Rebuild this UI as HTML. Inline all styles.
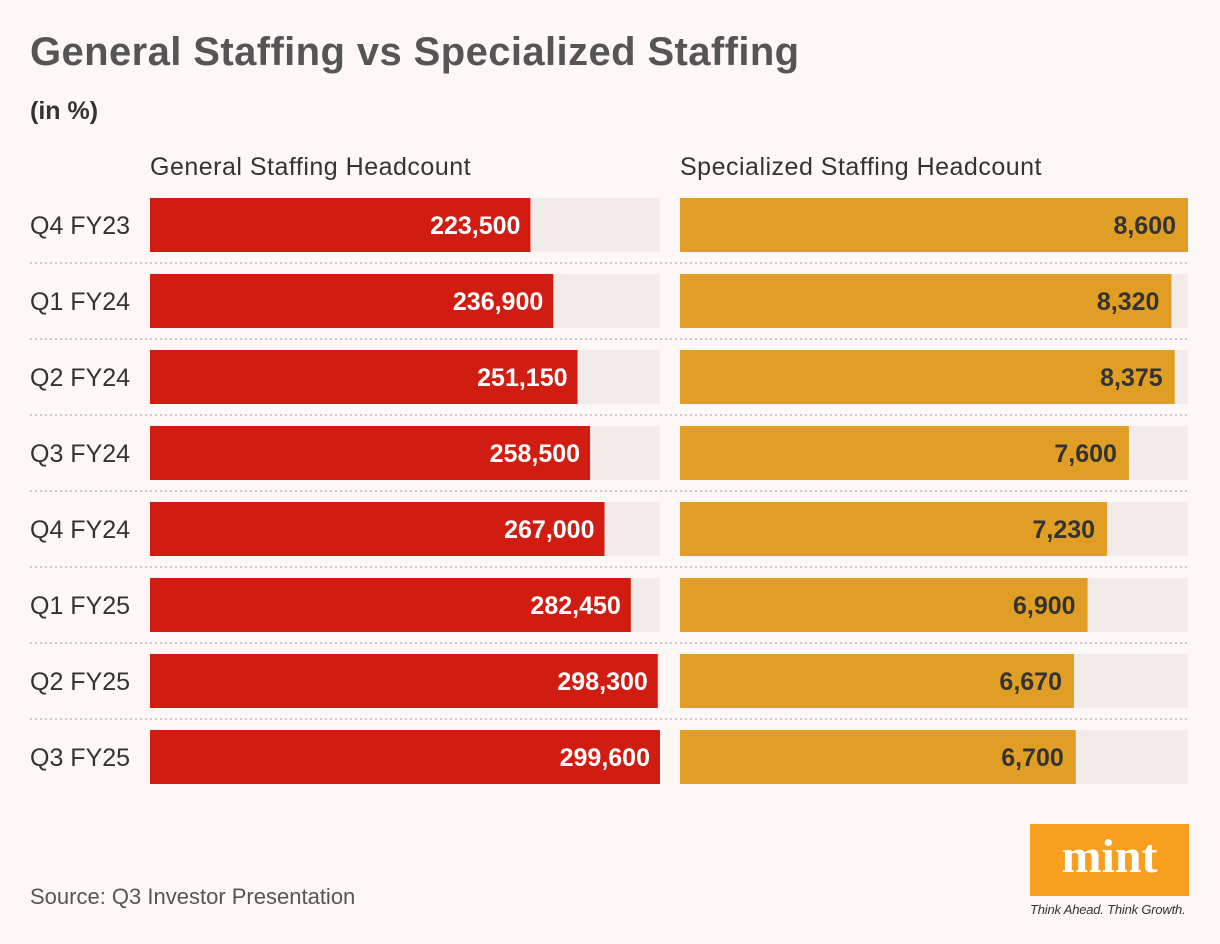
<!DOCTYPE html>
<html><head><meta charset="utf-8"><style>
body{margin:0;width:1220px;height:944px;background:#fdf7f5;font-family:"Liberation Sans",sans-serif;position:relative;overflow:hidden}
.abs{position:absolute}
</style></head><body>
<div class="abs" style="left:30px;top:30px;font-size:40px;font-weight:bold;color:#555;letter-spacing:0.4px">General Staffing vs Specialized Staffing</div>
<div class="abs" style="left:30px;top:97px;font-size:25px;font-weight:bold;color:#333">(in %)</div>
<div class="abs" style="left:150px;top:153px;font-size:25px;color:#333;letter-spacing:0.5px">General Staffing Headcount</div>
<div class="abs" style="left:680px;top:153px;font-size:25px;color:#333;letter-spacing:0.5px">Specialized Staffing Headcount</div>
<svg class="abs" style="left:0;top:0" width="1220" height="944" id="chart"></svg>
<div class="abs" style="left:30px;top:884px;font-size:22px;color:#555">Source: Q3 Investor Presentation</div>
<div class="abs" style="left:1030px;top:824px;width:159px;height:72px;background:#f89f1f;color:#fff;font-family:'Liberation Serif',serif;font-weight:bold;font-size:48px;text-align:center;line-height:66px">mint</div>
<div class="abs" style="left:1030px;top:902px;font-size:13px;font-style:italic;color:#333;letter-spacing:-0.2px">Think Ahead. Think Growth.</div>
<script>
const categories=["Q4 FY23","Q1 FY24","Q2 FY24","Q3 FY24","Q4 FY24","Q1 FY25","Q2 FY25","Q3 FY25"];
const generalValues=[223500,236900,251150,258500,267000,282450,298300,299600];
const specializedValues=[8600,8320,8375,7600,7230,6900,6670,6700];
const svg=document.getElementById('chart');
const NS='http://www.w3.org/2000/svg';
const gMax=Math.max(...generalValues), sMax=Math.max(...specializedValues);
const y0=198,step=76,bh=54;
const gx=150,gw=510,sx=680,sw=508;
function mk(t,a){const e=document.createElementNS(NS,t);for(const k in a)e.setAttribute(k,a[k]);svg.appendChild(e);return e;}
function fmt(v){return v.toLocaleString('en-US');}
categories.forEach((c,i)=>{
  const y=y0+i*step;
  const lab=mk('text',{x:30,y:y+bh/2+9,'font-size':25,fill:'#333'});lab.textContent=c;
  
  
  if(i<categories.length-1){
    const ln=mk('line',{x1:30,x2:1188,y1:y+bh+11,y2:y+bh+11,stroke:'#bbb','stroke-width':1.5,'stroke-dasharray':'2,3'});
    
    
  }
  const t1=mk('rect',{x:gx,y:y,width:gw,height:bh,fill:'#f1ebea'});
  
  
  const w1=gw*generalValues[i]/gMax;
  const b1=mk('rect',{x:gx,y:y,width:w1,height:bh,fill:'#d01c11'});
  
  
  const v1=mk('text',{x:gx+w1-10,y:y+bh/2+9,'font-size':25,'font-weight':'bold',fill:'#fff','text-anchor':'end'});v1.textContent=fmt(generalValues[i]);
  
  
  const t2=mk('rect',{x:sx,y:y,width:sw,height:bh,fill:'#f1ebea'});
  
  
  const w2=sw*specializedValues[i]/sMax;
  const b2=mk('rect',{x:sx,y:y,width:w2,height:bh,fill:'#e09f24'});
  
  
  const v2=mk('text',{x:sx+w2-12,y:y+bh/2+9,'font-size':25,'font-weight':'bold',fill:'#333','text-anchor':'end'});v2.textContent=fmt(specializedValues[i]);
  
  
});
</script>
</body></html>
